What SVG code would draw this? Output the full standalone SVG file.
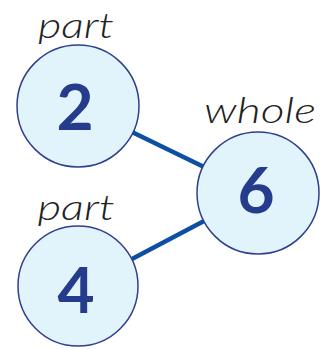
<svg xmlns="http://www.w3.org/2000/svg" width="322" height="350" viewBox="0 0 322 350">
  <style>
    .bubble { fill: #e1f3fb; stroke: #2e3f8e; stroke-width: 1.5; }
    .num { font-family: Lato, "Noto Sans", sans-serif; font-weight: 700; font-size: 64px; fill: #253b8b; text-anchor: middle; }
    .tag { font-family: Lato, "Open Sans", sans-serif; font-weight: 300; font-style: italic; font-size: 36px; fill: #222222; text-anchor: middle; }
    .link { stroke: #0d4fa3; stroke-width: 4.5; fill: none; }
  </style>

  <!-- connectors between the parts and the whole -->
  <g id="connectors">
    <line class="link" x1="133" y1="132.5" x2="203" y2="166.5"/>
    <line class="link" x1="132" y1="259" x2="204" y2="221"/>
  </g>

  <!-- part: 2 -->
  <g id="part-top">
    <text class="tag" x="76" y="38" textLength="76" lengthAdjust="spacingAndGlyphs">part</text>
    <circle class="bubble" cx="78" cy="106" r="61"/>
    <text class="num" x="75" y="130">2</text>
  </g>

  <!-- whole: 6 -->
  <g id="whole">
    <text class="tag" x="260" y="123" textLength="112" lengthAdjust="spacingAndGlyphs">whole</text>
    <circle class="bubble" cx="258" cy="193" r="61"/>
    <text class="num" x="256" y="213">6</text>
  </g>

  <!-- part: 4 -->
  <g id="part-bottom">
    <text class="tag" x="76" y="220" textLength="77" lengthAdjust="spacingAndGlyphs">part</text>
    <circle class="bubble" cx="78" cy="286" r="60"/>
    <text class="num" x="76" y="313">4</text>
  </g>
</svg>
